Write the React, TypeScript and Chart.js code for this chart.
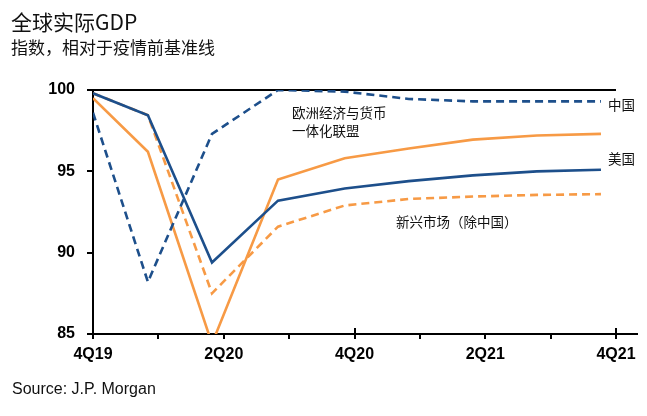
import React, { useEffect, useRef } from "react";
import { Chart, registerables } from "chart.js";

Chart.register(...registerables);

const quarterLabels = ["4Q19", "1Q20", "2Q20", "3Q20", "4Q20", "1Q21", "2Q21", "3Q21", "4Q21"];
const shownTicks = ["4Q19", "2Q20", "4Q20", "2Q21", "4Q21"];
const pointTimes = [0, 0.84, 1.82, 2.83, 3.85, 4.83, 5.81, 6.79, 7.77];
const chinaValues = [98.6, 88.2, 97.3, 100.0, 99.9, 99.45, 99.3, 99.3, 99.3];
const euroValues = [99.8, 98.45, 89.4, 93.2, 93.95, 94.4, 94.75, 95.0, 95.1];
const usValues = [99.5, 96.2, 84.4, 94.5, 95.8, 96.4, 96.95, 97.2, 97.3];
const emValues = [99.8, 98.45, 87.5, 91.6, 92.9, 93.3, 93.45, 93.55, 93.6];
const yTicks = [85, 90, 95, 100];

const NAVY = "#1d4f8b";
const ORANGE = "#f79a45";
const TICK_FONT = "'Liberation Sans', Arial, sans-serif";
const CJK = "'Noto Sans CJK SC', 'Noto Sans', sans-serif";

const toPoints = (vals: number[]) => vals.map((v, i) => ({ x: pointTimes[i], y: v }));

const axisExtras = {
  id: "axisExtras",
  afterDraw(chart: any) {
    const { ctx, chartArea } = chart;
    const xs = chart.scales.x;
    ctx.save();
    ctx.strokeStyle = "#000";
    ctx.lineWidth = 2;
    ctx.beginPath();
    ctx.moveTo(chartArea.right, chartArea.bottom);
    ctx.lineTo(chartArea.right + 22, chartArea.bottom);
    [4, 8].forEach((v) => {
      const px = Math.round(xs.getPixelForValue(v));
      ctx.moveTo(px, chartArea.bottom - 6);
      ctx.lineTo(px, chartArea.bottom);
    });
    ctx.stroke();
    ctx.restore();
  },
};

export default function App() {
  const ref = useRef<HTMLCanvasElement | null>(null);

  useEffect(() => {
    if (!ref.current) return;
    const lineBase = { pointRadius: 0, borderWidth: 2.6, fill: false, tension: 0 };
    const chart = new Chart(ref.current, {
      type: "line",
      data: {
        datasets: [
          { ...lineBase, label: "中国", data: toPoints(chinaValues), borderColor: NAVY, borderDash: [8, 5] },
          { ...lineBase, label: "欧洲经济与货币一体化联盟", data: toPoints(euroValues), borderColor: NAVY },
          { ...lineBase, label: "美国", data: toPoints(usValues), borderColor: ORANGE },
          { ...lineBase, label: "新兴市场（除中国）", data: toPoints(emValues), borderColor: ORANGE, borderDash: [8, 5] },
        ],
      },
      options: {
        responsive: false,
        animation: false,
        devicePixelRatio: 1,
        layout: { padding: { top: 90, right: 31, left: 0, bottom: 0 } },
        plugins: { legend: { display: false }, tooltip: { enabled: false } },
        scales: {
          x: {
            type: "linear",
            min: 0,
            max: 8,
            afterFit: (s: any) => {
              s.height = 82;
              s.paddingLeft = 0;
              s.paddingRight = 0;
            },
            ticks: {
              stepSize: 1,
              autoSkip: false,
              maxRotation: 0,
              padding: 6,
              color: "#000",
              font: { family: TICK_FONT, size: 16, weight: "bold" },
              callback: (v: any) => {
                const lab = quarterLabels[Number(v)];
                return shownTicks.includes(lab) ? lab : "";
              },
            },
            grid: { drawOnChartArea: false, tickLength: 5, color: "#000", lineWidth: 2 },
            border: { color: "#000", width: 2 },
          },
          y: {
            min: 85,
            max: 100,
            afterFit: (s: any) => {
              s.width = 93;
              s.paddingTop = 0;
              s.paddingBottom = 0;
            },
            afterBuildTicks: (s: any) => {
              s.ticks = yTicks.map((v) => ({ value: v }));
            },
            ticks: {
              padding: 12,
              color: "#000",
              font: { family: TICK_FONT, size: 16, weight: "bold" },
              callback: (v: any) => String(v),
            },
            grid: {
              tickLength: 6,
              lineWidth: 2,
              tickColor: "#000",
              color: (c: any) => (c.tick && c.tick.value === 100 ? "#000" : "rgba(0,0,0,0)"),
            },
            border: { color: "#000", width: 2 },
          },
        },
      },
      plugins: [axisExtras],
    });
    return () => chart.destroy();
  }, []);

  const txt = (style: React.CSSProperties): React.CSSProperties => ({
    position: "absolute",
    whiteSpace: "nowrap",
    lineHeight: 1,
    color: "#111",
    ...style,
  });

  return (
    <div style={{ position: "fixed", left: 0, top: 0, width: 647, height: 416, background: "#fff", overflow: "hidden" }}>
      <canvas ref={ref} width={647} height={416} style={{ position: "absolute", left: 0, top: 0 }} />
      <div style={txt({ left: 11, top: 11, fontFamily: CJK, fontSize: 21 })}>全球实际GDP</div>
      <div style={txt({ left: 11, top: 38, fontFamily: CJK, fontSize: 17 })}>指数，相对于疫情前基准线</div>
      <div style={txt({ left: 292, top: 103, fontFamily: CJK, fontSize: 13.5, lineHeight: "18px" })}>
        欧洲经济与货币
        <br />
        一体化联盟
      </div>
      <div style={txt({ left: 396, top: 215, fontFamily: CJK, fontSize: 13.5 })}>新兴市场（除中国）</div>
      <div style={txt({ left: 608, top: 98, fontFamily: CJK, fontSize: 13.5 })}>中国</div>
      <div style={txt({ left: 608, top: 152, fontFamily: CJK, fontSize: 13.5 })}>美国</div>
      <div style={txt({ left: 12, top: 381, fontFamily: TICK_FONT, fontSize: 16 })}>Source: J.P. Morgan</div>
    </div>
  );
}
